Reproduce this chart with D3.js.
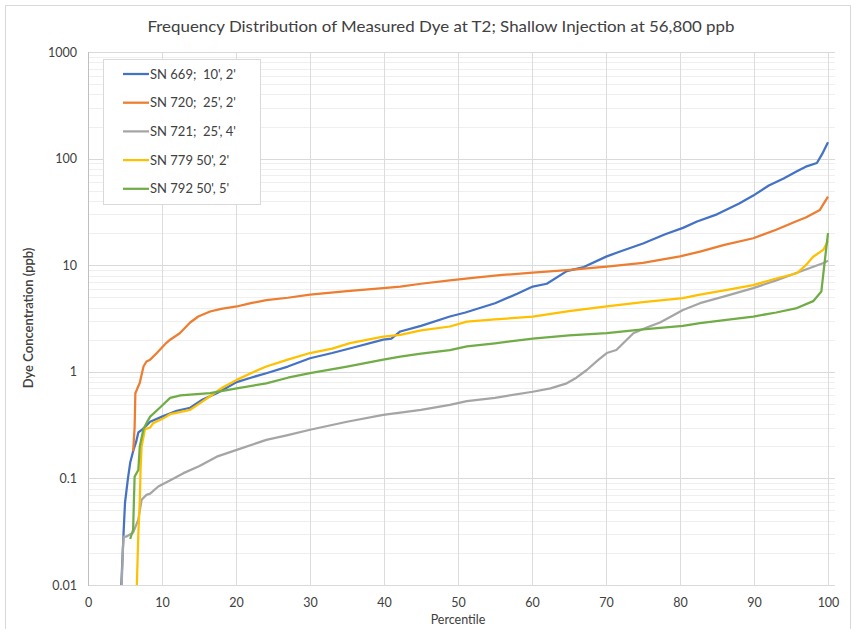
<!DOCTYPE html>
<html><head><meta charset="utf-8">
<script src="https://cdn.jsdelivr.net/npm/d3@7"></script>
<style>body{margin:0;background:#fff}svg{display:block}text{font-family:Lato,"Open Sans",sans-serif;fill:#404040}</style>
</head><body><svg id="c" width="859" height="629"></svg>
<script>
const title = "Frequency Distribution of Measured Dye at T2; Shallow Injection at 56,800 ppb";
const xTicks = [0,10,20,30,40,50,60,70,80,90,100];
const yTicks = [0.01,0.1,1,10,100,1000];
const yTickLabels = ["0.01","0.1","1","10","100","1000"];
const seriesNames = ["SN 669;  10', 2'","SN 720;  25', 2'","SN 721;  25', 4'","SN 779 50', 2'","SN 792 50', 5'"];
const seriesColors = ["#4472C4","#ED7D31","#A5A5A5","#FFC000","#70AD47"];

const sn669 = [[4.5,0.01],[4.8,0.03],[5.0,0.059],[5.4,0.1],[5.7,0.14],[6.1,0.18],[6.5,0.22],[6.8,0.27],[7.4,0.29],[8.4,0.34],[10,0.38],[12,0.43],[13.8,0.46],[15.5,0.55],[17.4,0.63],[20.1,0.8],[22,0.88],[24.1,0.97],[27,1.12],[30,1.34],[33,1.5],[36,1.7],[39.9,2.0],[41,2.05],[42.2,2.39],[45,2.7],[48.9,3.3],[51,3.6],[55,4.4],[58,5.4],[60.1,6.3],[62,6.7],[64.7,8.8],[67,9.6],[70.1,12.1],[72,13.5],[75,16],[78,19.5],[80.4,22.4],[82.3,25.7],[85,30],[88,38],[89.9,45],[92,56],[94,65],[95.8,76],[97,84],[98.5,91],[99.2,110],[100,142]];
const sn720 = [[6.1,0.18],[6.3,0.3],[6.4,0.63],[7.0,0.79],[7.5,1.12],[7.9,1.25],[8.4,1.3],[9.3,1.5],[10.6,1.87],[11.1,2.0],[12.4,2.3],[13.8,2.9],[14.9,3.3],[16.5,3.68],[18,3.9],[20.1,4.1],[22,4.4],[24.1,4.7],[27,4.95],[30,5.3],[35,5.7],[39.9,6.1],[42.2,6.3],[45,6.7],[48.9,7.2],[52,7.6],[56,8.1],[60.1,8.5],[64.7,9.0],[70.1,9.7],[75,10.5],[80,12.1],[82.7,13.4],[86,15.5],[89.9,17.9],[93,21.5],[95.8,26],[97,28],[98.9,33],[100,44]];
const sn721 = [[4.55,0.01],[4.7,0.02],[4.8,0.0285],[5.2,0.0285],[6.1,0.031],[6.8,0.041],[7.1,0.055],[7.25,0.063],[7.9,0.07],[8.4,0.072],[9.5,0.084],[11,0.095],[12.9,0.112],[15,0.13],[17.4,0.16],[20.1,0.185],[24.1,0.23],[27,0.255],[30,0.286],[35,0.34],[39.9,0.395],[45,0.44],[48.9,0.49],[51.2,0.53],[55,0.57],[60.1,0.65],[62.5,0.7],[64.7,0.78],[66,0.88],[67.4,1.04],[69,1.3],[70.1,1.5],[71.4,1.6],[73.7,2.3],[75.5,2.6],[77.3,2.9],[80.4,3.8],[82.7,4.4],[86,5.1],[89.9,6.1],[93,7.2],[95.8,8.5],[99.4,10.5],[100,11]];
const sn779 = [[6.6,0.01],[6.8,0.03],[7.0,0.063],[7.1,0.12],[7.25,0.2],[7.7,0.29],[8.4,0.3],[8.8,0.33],[10,0.36],[11.1,0.4],[13.8,0.44],[15,0.5],[16.5,0.59],[18,0.7],[20.1,0.84],[22,0.97],[24.1,1.12],[27,1.3],[30,1.5],[33,1.65],[35.4,1.86],[39.9,2.14],[42.2,2.22],[45,2.45],[48.9,2.66],[51.2,2.96],[55,3.1],[60.1,3.3],[65,3.7],[70.1,4.1],[75,4.5],[80.4,4.9],[82.7,5.3],[86,5.8],[89.9,6.5],[93,7.5],[95.8,8.4],[97,10],[98,12],[99.4,14],[100,17]];
const sn792 = [[5.7,0.027],[6.1,0.033],[6.2,0.06],[6.3,0.104],[6.8,0.12],[7.0,0.2],[7.5,0.29],[7.9,0.33],[8.4,0.38],[9.7,0.46],[11.1,0.57],[12.5,0.6],[13.8,0.61],[16.5,0.63],[20.1,0.7],[24.1,0.78],[27,0.88],[30,0.97],[35,1.12],[39.9,1.3],[42.2,1.39],[45,1.48],[48.9,1.6],[51.2,1.73],[55,1.85],[60.1,2.05],[65,2.2],[70.1,2.3],[75,2.5],[80.4,2.7],[82.7,2.86],[86,3.05],[89.9,3.3],[93,3.6],[95.8,3.96],[98,4.6],[99.1,5.66],[99.5,10],[100,20]];
const seriesData = [sn669, sn720, sn721, sn779, sn792];

const svg = d3.select("#c");
const x = d3.scaleLinear().domain([0,100]).range([88,828]);
const y = d3.scaleLog().domain([0.01,1000]).range([585,52]);

svg.append("rect").attr("x",5.5).attr("y",5.5).attr("width",845).attr("height",640)
  .attr("fill","#fff").attr("stroke","#d9d9d9");

const minor = [];
for (let e=-2;e<3;e++) for (let m=2;m<10;m++) minor.push(m*Math.pow(10,e));
svg.append("g").selectAll("line").data(minor).join("line")
  .attr("x1",88).attr("x2",835).attr("y1",d=>Math.round(y(d))+0.5).attr("y2",d=>Math.round(y(d))+0.5)
  .attr("stroke","#efefef").attr("stroke-width",1);
svg.append("g").selectAll("line").data(yTicks).join("line")
  .attr("x1",88).attr("x2",835).attr("y1",d=>Math.round(y(d))+0.5).attr("y2",d=>Math.round(y(d))+0.5)
  .attr("stroke","#d9d9d9").attr("stroke-width",1);
svg.append("g").selectAll("line").data(xTicks.slice(1)).join("line")
  .attr("x1",d=>Math.round(x(d))+0.5).attr("x2",d=>Math.round(x(d))+0.5).attr("y1",52).attr("y2",586)
  .attr("stroke","#dcdcdc").attr("stroke-width",1);
svg.append("line").attr("x1",88.5).attr("x2",88.5).attr("y1",52).attr("y2",586).attr("stroke","#bfbfbf");

const yAxis = d3.axisLeft(y).tickValues(yTicks).tickFormat((d,i)=>yTickLabels[i]).tickSize(0).tickPadding(11);
const gy = svg.append("g").attr("transform","translate(88,0)").call(yAxis);
gy.select(".domain").remove();
gy.selectAll("text").style("font-size","12.5px").attr("fill","#404040");
const xAxis = d3.axisBottom(x).tickValues(xTicks).tickFormat(d3.format("d")).tickSize(0).tickPadding(13);
const gx = svg.append("g").attr("transform","translate(0,585)").call(xAxis);
gx.select(".domain").remove();
gx.selectAll("text").style("font-size","12.5px").attr("fill","#404040");

const line = d3.line().x(d=>x(d[0])).y(d=>y(d[1]));
seriesData.forEach((s,i)=>{
  svg.append("path").datum(s).attr("d",line).attr("fill","none")
    .attr("stroke",seriesColors[i]).attr("stroke-width",2.25).attr("stroke-linejoin","round");
});

svg.append("text").attr("x",441).attr("y",32).attr("text-anchor","middle")
  .attr("textLength",587).attr("lengthAdjust","spacingAndGlyphs")
  .style("font-size","16px").attr("fill","#404040").text(title);
svg.append("text").attr("x",458).attr("y",624).attr("text-anchor","middle")
  .style("font-size","12.5px").attr("fill","#595959").text("Percentile");
svg.append("text").attr("transform","translate(33,318) rotate(-90)").attr("text-anchor","middle")
  .style("font-size","13px").style("font-weight","600").attr("fill","#404040").text("Dye Concentration (ppb)");

svg.append("rect").attr("x",103.5).attr("y",59.5).attr("width",157).attr("height",145)
  .attr("fill","#fff").attr("stroke","#d9d9d9");
const lg = svg.append("g").selectAll("g").data(seriesNames).join("g")
  .attr("transform",(d,i)=>`translate(0,${74+i*28.7})`);
lg.append("line").attr("x1",123).attr("x2",149).attr("y1",0).attr("y2",0)
  .attr("stroke",(d,i)=>seriesColors[i]).attr("stroke-width",2.25);
lg.append("text").attr("x",150).attr("y",4.5).style("font-size","13px").attr("fill","#404040")
  .style("white-space","pre").text(d=>d);
</script></body></html>
